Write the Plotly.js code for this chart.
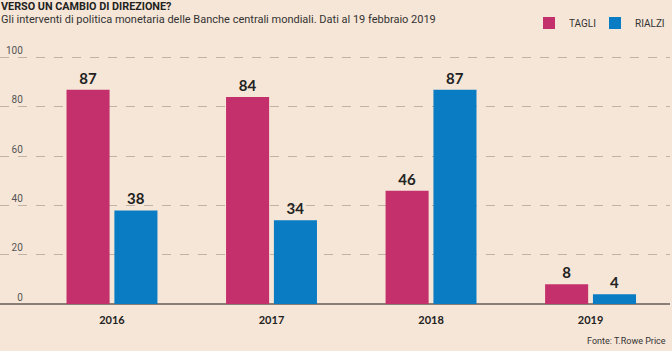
<!DOCTYPE html>
<html>
<head>
<meta charset="utf-8">
<script src="https://cdn.plot.ly/plotly-3.0.1.min.js"></script>
<style>html,body{margin:0;padding:0;background:#f6e6d7;}#chart{width:672px;height:351px;}</style>
</head>
<body>
<div id="chart"></div>
<script>
const years = ['2016', '2017', '2018', '2019'];
const tagli = [87, 84, 46, 8];
const rialzi = [38, 34, 87, 4];
const yTicks = [0, 20, 40, 60, 80, 100];

const bg = '#f6e6d7';
const pink = '#c4306c';
const blue = '#0a7cc4';

const common = {
  type: 'bar',
  x: years,
  textposition: 'outside',
  cliponaxis: false,
  textfont: {family: 'Lato, sans-serif', size: 15, color: '#222', weight: 'bold'},
  hoverinfo: 'skip'
};

const data = [
  Object.assign({}, common, {name: 'TAGLI', y: tagli, text: tagli.map(String), marker: {color: pink}, legend: 'legend'}),
  Object.assign({}, common, {name: 'RIALZI', y: rialzi, text: rialzi.map(String), marker: {color: blue}, legend: 'legend2'})
];

const T = 38, H = 351 - T - 47;
const legY = 1 + (T - 23) / H;
const legFont = {family: 'Roboto, sans-serif', size: 10, color: '#333'};

const layout = {
  width: 672, height: 351,
  margin: {l: 0, r: 2, t: T, b: 47},
  paper_bgcolor: bg, plot_bgcolor: bg,
  font: {family: 'Roboto, sans-serif', color: '#333'},
  barmode: 'group',
  bargap: 0.4,
  bargroupgap: 0.1,
  showlegend: true,
  legend: {orientation: 'h', x: 529 / 670, xanchor: 'left', y: legY, yanchor: 'middle',
    font: legFont, bgcolor: 'rgba(0,0,0,0)', itemwidth: 30},
  legend2: {orientation: 'h', x: 1, xanchor: 'right', y: legY, yanchor: 'middle',
    font: legFont, bgcolor: 'rgba(0,0,0,0)', itemwidth: 30},
  xaxis: {
    type: 'category',
    range: [-0.702, 3.498],
    showgrid: false, zeroline: false, showline: false,
    ticks: '',
    tickfont: {family: 'Lato, sans-serif', size: 11, color: '#222', weight: 'bold'},
    ticklabelstandoff: 8,
    fixedrange: true
  },
  yaxis: {
    range: [0, 108],
    tickvals: yTicks,
    ticktext: yTicks.map(v => String(v).padStart(3, '\u2007')),
    ticklabelposition: 'inside top',
    ticklabelstandoff: 3,
    tickfont: {family: 'Roboto, sans-serif', size: 10, color: '#555'},
    showgrid: true, gridcolor: '#bfb3a7', griddash: 'dash', gridwidth: 1,
    zeroline: true, zerolinecolor: '#8a7f76', zerolinewidth: 1.2,
    showline: false, ticks: '',
    fixedrange: true
  },
  annotations: [
    {xref: 'paper', yref: 'paper', x: 0, y: 1, yshift: T + 2, xanchor: 'left', yanchor: 'top',
     text: '<b>VERSO UN CAMBIO DI DIREZIONE?</b>', showarrow: false,
     font: {family: 'Roboto, sans-serif', size: 10.8, color: '#222'}, xshift: -1},
    {xref: 'paper', yref: 'paper', x: 0, y: 1, yshift: T - 11, xanchor: 'left', yanchor: 'top',
     text: 'Gli interventi di politica monetaria delle Banche centrali mondiali. Dati al 19 febbraio 2019', showarrow: false,
     font: {family: 'Roboto, sans-serif', size: 11, color: '#333'}, xshift: -1},
    {xref: 'paper', yref: 'paper', x: 1, y: 0, yshift: -30, xanchor: 'right', yanchor: 'top',
     text: 'Fonte: T.Rowe Price', showarrow: false,
     font: {family: 'Roboto, sans-serif', size: 9, color: '#333'}, xshift: -2}
  ]
};

Plotly.newPlot('chart', data, layout, {displayModeBar: false, staticPlot: true});
</script>
</body>
</html>
